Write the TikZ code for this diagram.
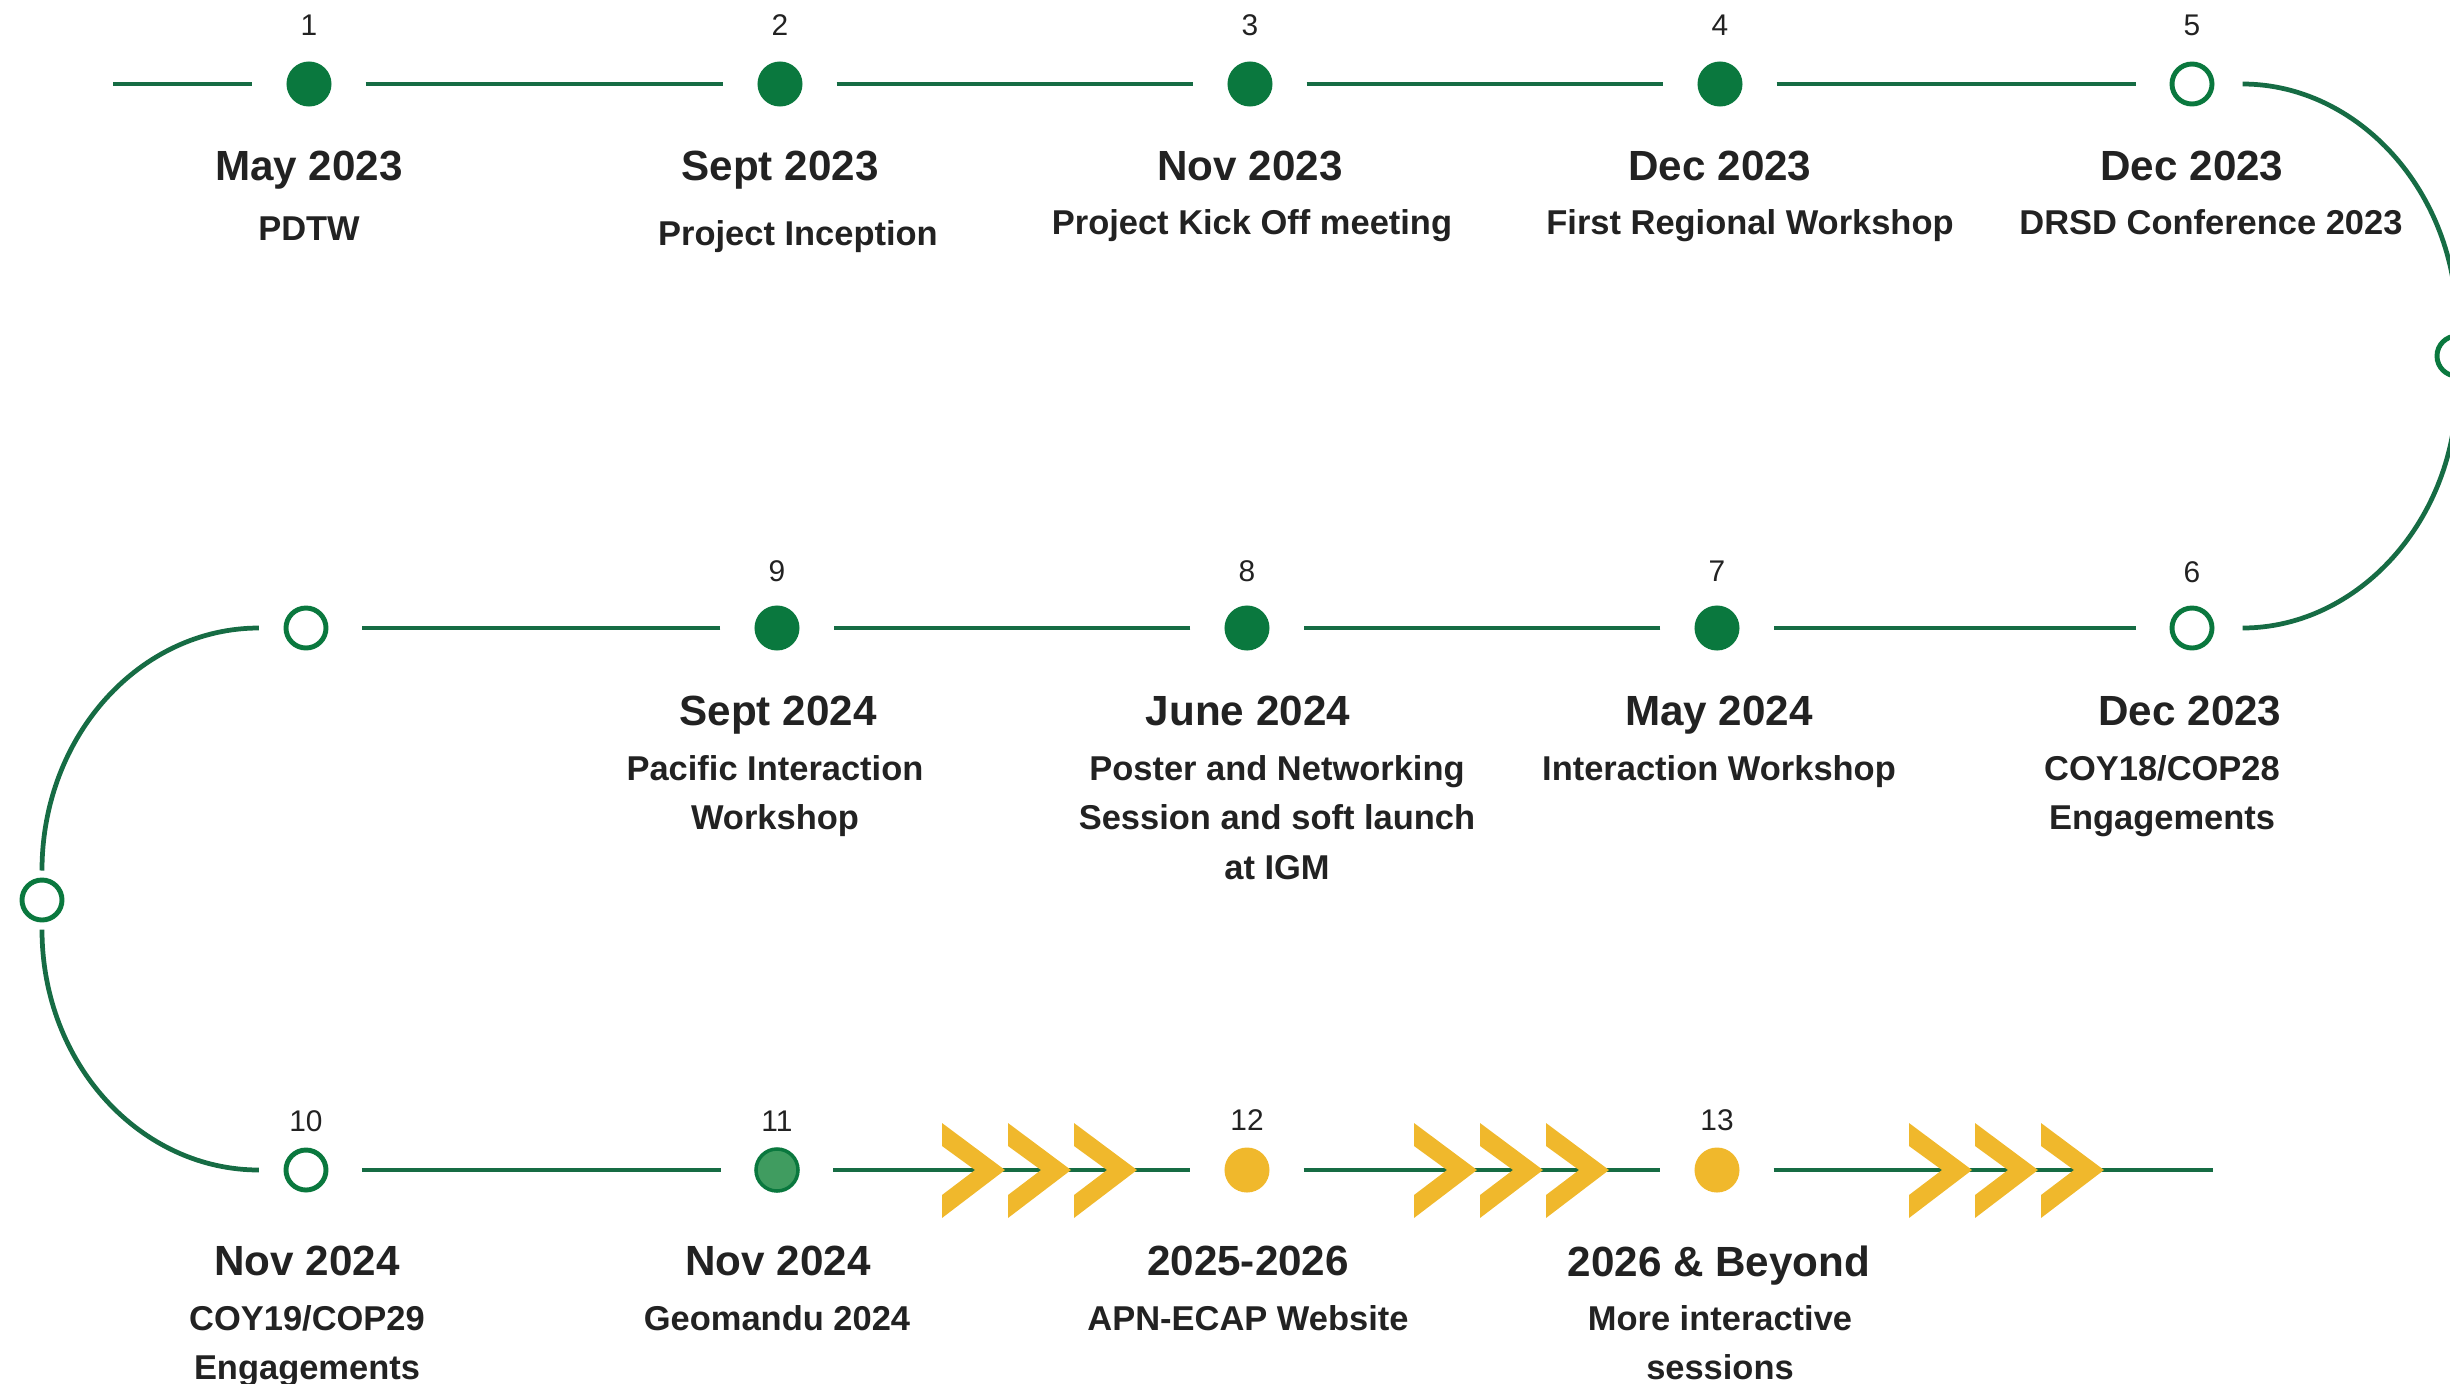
\documentclass[tikz,border=0pt]{standalone}
\usepackage{fontspec}
\setmainfont{Liberation Sans}
\usepackage{tikz}
\usetikzlibrary{positioning}

\definecolor{tlgreen}{RGB}{10,120,62}
\definecolor{tlline}{RGB}{22,108,68}
\definecolor{tlmid}{RGB}{64,156,96}
\definecolor{tlyellow}{RGB}{240,184,44}
\definecolor{tltext}{RGB}{34,34,34}

\tikzset{
  done/.style={circle, fill=tlgreen, minimum size=0.45cm, inner sep=0pt},
  hollow/.style={circle, draw=tlgreen, line width=1.4pt, fill=white, minimum size=0.4cm, inner sep=0pt},
  soon/.style={circle, fill=tlyellow, minimum size=0.45cm, inner sep=0pt},
  num/.style={font=\fontsize{8.5}{10}\selectfont, text=tltext, inner sep=0pt},
  stamp/.style={font=\bfseries\fontsize{12}{14}\selectfont, text=tltext, inner sep=0pt, anchor=north},
  event/.style={font=\bfseries\fontsize{9.8}{14}\selectfont, text=tltext, align=center, inner sep=0pt, anchor=north},
  link/.style={draw=tlline, line width=1.35pt, shorten <=9.5pt, shorten >=9.5pt},
  turnline/.style={draw=tlline, line width=1.35pt}
}

\begin{document}
\begin{tikzpicture}[x=0.01cm, y=-0.01cm]
\useasboundingbox (0,0) rectangle (2450,1384);

% row one
\coordinate (head) at (113,84);
\node[done] (c1) at (309,84) {};
\node[done] (c2) at (780,84) {};
\node[done] (c3) at (1250,84) {};
\node[done] (c4) at (1720,84) {};
\node[hollow] (c5) at (2192,84) {};

\node[num, above=7pt of c1] (n1) {1};
\node[num, above=7pt of c2] (n2) {2};
\node[num, above=7pt of c3] (n3) {3};
\node[num, above=7pt of c4] (n4) {4};
\node[num, above=7pt of c5] (n5) {5};

\node[stamp] (d1) at (309,150) {May 2023};
\node[stamp] (d2) at (780,150) {Sept 2023};
\node[stamp] (d3) at (1250,150) {Nov 2023};
\node[stamp] (d4) at (1720,150) {Dec 2023};
\node[stamp] (d5) at (2192,150) {Dec 2023};

\node[event] (e1) at (309,216) {PDTW};
\node[event] (e2) at (798,220) {Project Inception};
\node[event] (e3) at (1252,209) {Project Kick Off meeting};
\node[event] (e4) at (1750,209) {First Regional Workshop};
\node[event] (e5) at (2211,209) {DRSD Conference 2023};

% turn right
\node[hollow] (r) at (2457,356) {};

% row two
\node[hollow] (c6) at (2192,628) {};
\node[done] (c7) at (1717,628) {};
\node[done] (c8) at (1247,628) {};
\node[done] (c9) at (777,628) {};
\node[hollow] (l1) at (306,628) {};

\node[num, above=6.4pt of c6] (n6) {6};
\node[num, above=6.4pt of c7] (n7) {7};
\node[num, above=6.4pt of c8] (n8) {8};
\node[num, above=6.4pt of c9] (n9) {9};

\node[stamp] (d6) at (2190,695) {Dec 2023};
\node[stamp] (d7) at (1719,695) {May 2024};
\node[stamp] (d8) at (1248,695) {June 2024};
\node[stamp] (d9) at (778,695) {Sept 2024};

\node[event] (e6) at (2162,755) {COY18/COP28\\Engagements};
\node[event] (e7) at (1719,755) {Interaction Workshop};
\node[event] (e8) at (1277,755) {Poster and Networking\\Session and soft launch\\at IGM};
\node[event] (e9) at (775,755) {Pacific Interaction\\Workshop};

% turn left
\node[hollow] (l2) at (42,900) {};

% row three
\node[hollow] (c10) at (306,1170) {};
\node[done, fill=tlmid, draw=tlgreen, line width=1pt, minimum size=0.42cm] (c11) at (777,1170) {};
\node[soon] (c12) at (1247,1170) {};
\node[soon] (c13) at (1717,1170) {};
\coordinate (tail) at (2213,1170);

\node[num, above=4.4pt of c10] (n10) {10};
\node[num, above=4.4pt of c11] (n11) {11};
\node[num, above=4.4pt of c12] (n12) {12};
\node[num, above=4.4pt of c13] (n13) {13};

\node[stamp] (d10) at (307,1245) {Nov 2024};
\node[stamp] (d11) at (778,1245) {Nov 2024};
\node[stamp] (d12) at (1248,1245) {2025-2026};
\node[stamp] (d13) at (1719,1245) {2026 \& Beyond};

\node[event] (e10) at (307,1305) {COY19/COP29\\Engagements};
\node[event] (e11) at (777,1305) {Geomandu 2024};
\node[event] (e12) at (1248,1305) {APN-ECAP Website};
\node[event] (e13) at (1720,1305) {More interactive\\sessions};

% connectors
\draw[link, shorten <=0pt] (head) -- (c1);
\draw[link] (c1) -- (c2);
\draw[link] (c2) -- (c3);
\draw[link] (c3) -- (c4);
\draw[link] (c4) -- (c5);
\draw[turnline, shorten <=8pt, shorten >=2pt] (c5) to[out=0, in=90, looseness=1.05] (r);
\draw[turnline, shorten <=2pt, shorten >=8pt] (r) to[out=-90, in=0, looseness=1.05] (c6);
\draw[link] (c6) -- (c7);
\draw[link] (c7) -- (c8);
\draw[link] (c8) -- (c9);
\draw[link] (c9) -- (l1);
\draw[turnline, shorten <=7pt, shorten >=2pt] (l1) to[out=180, in=90, looseness=1.05] (l2);
\draw[turnline, shorten <=2pt, shorten >=7pt] (l2) to[out=-90, in=180, looseness=1.05] (c10);
\draw[link] (c10) -- (c11);
\draw[link] (c11) -- (c12);
\draw[link] (c12) -- (c13);
\draw[link, shorten >=0pt] (c13) -- (tail);

% chevrons
\foreach \cx in {942,1008,1074,1414,1480,1546,1909,1975,2041}
  \fill[tlyellow] (\cx,1123) -- ++(63,47) -- ++(-63,48) -- ++(0,-23) -- ++(33,-25) -- ++(-33,-24) -- cycle;

\end{tikzpicture}
\end{document}
